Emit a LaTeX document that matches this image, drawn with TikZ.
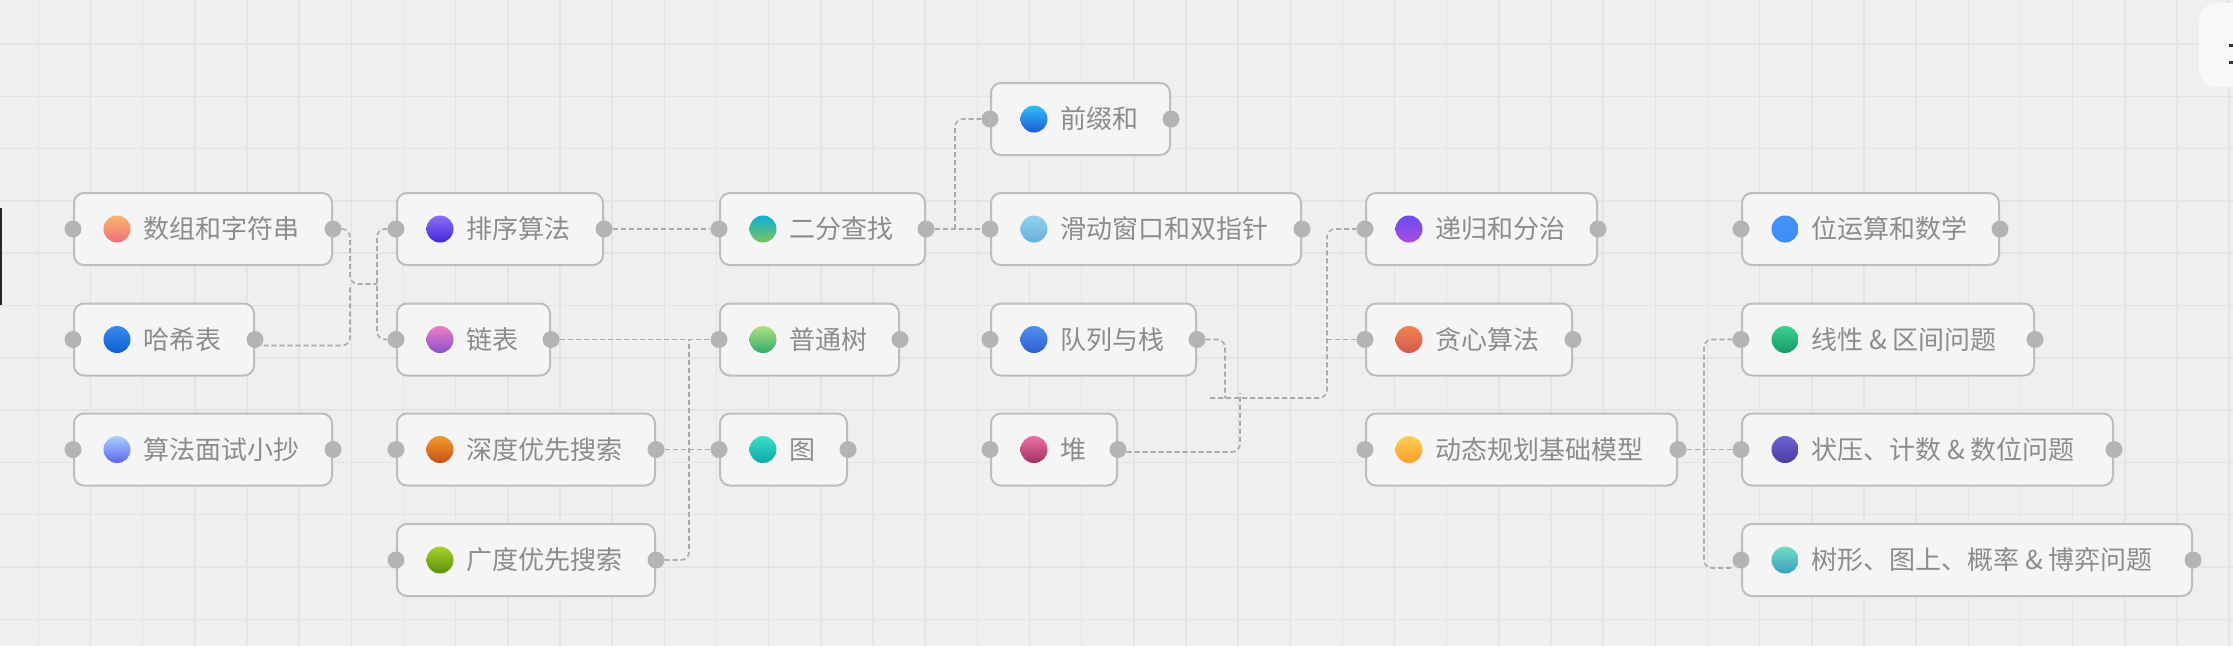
\documentclass[tikz,border=0pt]{standalone}
\usepackage{fontspec}
\setmainfont{Noto Sans CJK SC}
\usetikzlibrary{calc}
\definecolor{bg}{HTML}{EFEFEF}
\definecolor{gridc}{HTML}{E4E4E4}
\definecolor{boxfill}{HTML}{F5F5F5}
\definecolor{boxline}{HTML}{BDBDBD}
\definecolor{portc}{HTML}{B4B4B4}
\definecolor{connc}{HTML}{ABABAB}
\definecolor{txtc}{HTML}{8C8C8C}
\definecolor{btnc}{HTML}{F8F8F8}
\tikzset{
  topicbox/.style={rectangle, rounded corners=10pt, draw=boxline, line width=2pt, fill=boxfill, minimum height=72pt, inner sep=0pt},
  portdot/.style={circle, fill=portc, minimum size=17pt, inner sep=0pt},
  colordot/.style={circle, minimum size=27pt, inner sep=0pt},
  topiclbl/.style={anchor=base west, inner sep=0pt, text=txtc, font=\fontsize{26pt}{30pt}\selectfont},
  conn/.style={draw=connc, line width=1.6pt, dash pattern=on 5pt off 3pt, rounded corners=8pt},
  gridline/.style={draw=gridc, line width=1.5pt}
}
\newcommand{\mytopic}[7]{%
  \definecolor{#1top}{HTML}{#5}%
  \definecolor{#1bot}{HTML}{#6}%
  \node[topicbox, minimum width={#3-#2}, anchor=west] (#1) at (#2,#4) {};
  \node[portdot] (#1-l) at (#1.west) {};
  \node[portdot] (#1-r) at (#1.east) {};
  \node[colordot, top color=#1top, bottom color=#1bot] (#1-d) at ($(#1.west)+(44,0)$) {};
  \node[topiclbl] (#1-t) at ($(#1.west)+(70,9.5)$) {#7};
}
\begin{document}
\begin{tikzpicture}[x=1pt, y=-1pt]
  \useasboundingbox (0,0) rectangle (2233,646);
  \fill[bg] (0,0) rectangle (2233,646);
  \foreach \i in {0,...,42} \draw[gridline] ({38.4+52.16*\i},0) -- ++(0,646);
  \foreach \j in {0,...,12} \draw[gridline] (0,{44+52.3*\j}) -- ++(2233,0);
  % left edge bar and top-right button
  \fill[black!85] (0,208) rectangle (2,305);
  \fill[btnc, rounded corners=18pt] (2199,3) rectangle (2275,87);
  \fill[black!80] (2229,44) rectangle (2233,46.5);
  \fill[black!80] (2229,61) rectangle (2233,63.5);

  % topics
  \mytopic{A}{73}{331}{229}{FBB56A}{EF6F7F}{数组和字符串}
  \mytopic{B}{73}{253}{339.5}{3A8AF0}{0D5FD6}{哈希表}
  \mytopic{C}{73}{331}{449.5}{AAD0FF}{5B65EF}{算法面试小抄}
  \mytopic{D}{396}{602}{229}{8A70FA}{4526D8}{排序算法}
  \mytopic{E}{396}{549}{339.5}{F07CC8}{8553C6}{链表}
  \mytopic{F}{396}{654}{449.5}{F39A2A}{C4521C}{深度优先搜索}
  \mytopic{G}{396}{654}{560}{A6D32A}{58900E}{广度优先搜索}
  \mytopic{H}{719}{924}{229}{0BB0D8}{7EC45A}{二分查找}
  \mytopic{I}{719}{898}{339.5}{B0E080}{30AA6C}{普通树}
  \mytopic{J}{719}{846}{449.5}{3AE0C4}{0EA8AC}{图}
  \mytopic{K}{990}{1169}{119}{2EC0F8}{2058D8}{前缀和}
  \mytopic{L}{990}{1300}{229}{92D2EC}{66B0DA}{滑动窗口和双指针}
  \mytopic{M}{990}{1195}{339.5}{5290F0}{2E5ED0}{队列与栈}
  \mytopic{N}{990}{1116}{449.5}{EC70A8}{A03060}{堆}
  \mytopic{O}{1365}{1596}{229}{6A4CF0}{A84CE0}{递归和分治}
  \mytopic{P}{1365}{1571}{339.5}{F2824A}{D45A52}{贪心算法}
  \mytopic{Q}{1365}{1676}{449.5}{FFD050}{FF9C2C}{动态规划基础模型}
  \mytopic{R}{1741}{1998}{229}{4592FA}{3D8CF6}{位运算和数学}
  \mytopic{S}{1741}{2033}{339.5}{38D48C}{17996A}{线性 \& 区间问题}
  \mytopic{T}{1741}{2112}{449.5}{6E62D8}{4C3C9C}{状压、计数 \& 数位问题}
  \mytopic{U}{1741}{2191}{560}{70DCC8}{38A0BC}{树形、图上、概率 \& 博弈问题}

  % junction coordinates
  \coordinate (j1) at (350,284);
  \coordinate (j2) at (377,284);
  \coordinate (j3) at (689,339.5);
  \coordinate (j4) at (955,229);
  \coordinate (j5) at (1225,398);
  \coordinate (j7) at (1210,398);
  \coordinate (j8) at (1327,339.5);

  % connectors
  \draw[conn] (A-r) -- (350,229) -- (350,284) -- (j2);
  \draw[conn] ($(B-r.east)+(0,6)$) -- (350,345.5) -- (j1);
  \draw[conn] (D-l) -- (377,229) -- (377,339.5) -- (E-l);
  \draw[conn] (D-r) -- (H-l);
  \draw[conn] (E-r) -- (I-l);
  \draw[conn] (G-r) -- (689,560) -- (j3);
  \draw[conn] (F-r) -- (J-l);
  \draw[conn] (H-r) -- (L-l);
  \draw[conn] (j4) -- (955,119) -- (K-l);
  \draw[conn] (M-r) -- (1225,339.5) -- (j5);
  \draw[conn] ($(N-r.east)+(0,2.5)$) -- (1240,452) -- (1240,393);
  \draw[conn] (j7) -- (1327,398) -- (1327,229) -- (O-l);
  \draw[conn] (j8) -- (P-l);
  \draw[conn] (Q-r) -- (T-l);
  \draw[conn] (S-l) -- (1704,339.5) -- (1704,568) -- ($(U-l.west)+(0,8)$);
\end{tikzpicture}
\end{document}
